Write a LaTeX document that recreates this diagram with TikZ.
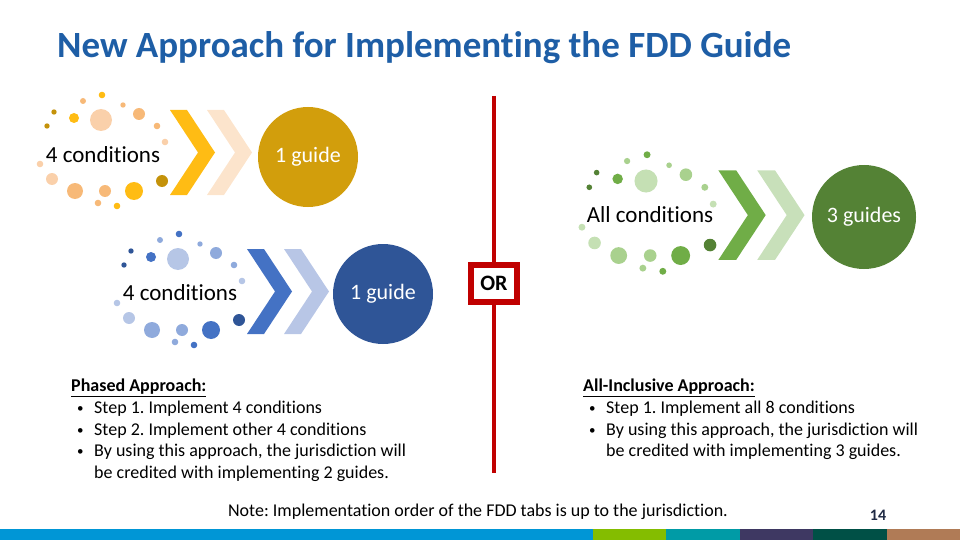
\documentclass[tikz,border=0pt]{standalone}
\usepackage{fontspec}
\setmainfont{Carlito}[Ligatures=NoCommon]
\frenchspacing
\newcommand{\smallbullet}{\hspace*{6pt}\makebox[17pt][l]{\raisebox{1pt}{\fontsize{13}{13}\selectfont\textbullet}}}

\definecolor{titleblue}{RGB}{30,94,166}
\definecolor{darkred}{RGB}{192,0,0}
\definecolor{pagenum}{RGB}{31,42,68}
% orange group
\definecolor{orA}{RGB}{196,146,10}
\definecolor{orB}{RGB}{255,188,20}
\definecolor{orC}{RGB}{247,185,120}
\definecolor{orD}{RGB}{250,208,170}
\definecolor{orE}{RGB}{252,228,204}
\definecolor{orF}{RGB}{210,158,12}
% blue group
\definecolor{blA}{RGB}{47,85,151}
\definecolor{blB}{RGB}{68,114,196}
\definecolor{blC}{RGB}{143,170,220}
\definecolor{blD}{RGB}{182,198,230}
\definecolor{blE}{RGB}{184,198,230}
\definecolor{blF}{RGB}{47,85,151}
% green group
\definecolor{grA}{RGB}{84,130,53}
\definecolor{grB}{RGB}{112,173,71}
\definecolor{grC}{RGB}{169,209,142}
\definecolor{grD}{RGB}{197,224,180}
\definecolor{grE}{RGB}{200,224,186}
\definecolor{grF}{RGB}{84,130,53}
% bottom bar
\definecolor{barA}{RGB}{0,150,214}
\definecolor{barB}{RGB}{132,189,0}
\definecolor{barC}{RGB}{0,155,166}
\definecolor{barD}{RGB}{62,56,98}
\definecolor{barE}{RGB}{0,80,70}
\definecolor{barF}{RGB}{176,123,86}

\begin{document}
\begin{tikzpicture}
[
  x=1pt, y=-1pt,
  condtext/.style={inner sep=0pt, font=\fontsize{23}{27}\selectfont},
  guide/.style={circle, minimum size=100pt, inner sep=0pt, text=white,
    font=\fontsize{22}{26}\selectfont},
  orbox/.style={draw=darkred, line width=6pt, fill=white, minimum width=46pt,
    minimum height=37pt, inner sep=0pt, font=\fontsize{22}{26}\selectfont\bfseries},
  redline/.style={draw=darkred, line width=4pt},
  notes/.style={anchor=north west, align=left, inner sep=0pt,
    font=\fontsize{18}{21.6}\selectfont}
]

\useasboundingbox (0,0) rectangle (960,540);

\node[anchor=west, inner sep=0pt, text=titleblue,
  font=\fontsize{37}{42}\selectfont\bfseries] (title) at (57,48)
  {New Approach for Implementing the FDD Guide};

% dots and chevrons of the three groups
\foreach \gx/\gy/\gs/\grp in {101/120/1/or, 178/259/1/bl, 646/181/1.05/gr}
{
  \begin{scope}[shift={(\gx,\gy)}, scale=\gs]
  \foreach \dx/\dy/\rad/\shade in {1/-25/3.3/B, -18/-19/3/C, 22/-15/2.7/C,
      -47/-8/2.7/A, -27/-2/5/B, 0/0/11/D, 38/-6/6/C, -54/6/2.7/A,
      56/6/3.3/C, 64/22/3.3/D, -61/44/3.3/D, -49/59/6/D, -26/71/8/C,
      4/71/6/C, 33/71/9/B, 61/61/6/A, -3/83/3.3/C, 16/86/3.3/B}
    \fill[\grp\shade] (\dx,\dy) circle (\rad);
  \fill[\grp B] (69,-10) -- (86,-10) -- (114,32.5) -- (86,75) -- (69,75)
    -- (97,32.5) -- cycle;
  \fill[\grp E] (106,-10) -- (123,-10) -- (151,32.5) -- (123,75) -- (106,75)
    -- (134,32.5) -- cycle;
  \end{scope}
}

\node[condtext] (condA) at (103,155) {4 conditions};
\node[guide, fill=orF] (guideA) at (308,157) {1 guide};

\node[condtext] (condB) at (180,293) {4 conditions};
\node[guide, fill=blF] (guideB) at (383,294) {1 guide};

\node[condtext] (condC) at (650,215) {All conditions};
\node[guide, fill=grF, minimum size=104pt] (guideC) at (864,217) {3 guides};

% divider
\coordinate (ltop) at (494,96);
\coordinate (lbot) at (494,473);
\node[orbox] (orsign) at (494,283.5) {OR};
\draw[redline] (ltop) -- (orsign);
\draw[redline] (orsign) -- (lbot);

\node[notes] (phased) at (71,379)
  {\underline{\textbf{Phased Approach:}}\\
   \smallbullet Step 1. Implement 4 conditions\\
   \smallbullet Step 2. Implement other 4 conditions\\
   \smallbullet By using this approach, the jurisdiction will\\
   \hspace*{23pt}be credited with implementing 2 guides.};

\node[notes] (inclusive) at (583,379)
  {\underline{\textbf{All-Inclusive Approach:}}\\
   \smallbullet Step 1. Implement all 8 conditions\\
   \smallbullet By using this approach, the jurisdiction will\\
   \hspace*{23pt}be credited with implementing 3 guides.};

\node[inner sep=0pt, font=\fontsize{18}{21}\selectfont] (note) at (478,512)
  {Note: Implementation order of the FDD tabs is up to the jurisdiction.};
\node[inner sep=0pt, text=pagenum, font=\fontsize{16}{19}\selectfont\bfseries]
  (page) at (878,515) {14};

% bottom bar
\fill[barA] (0,529) rectangle (593,540);
\fill[barB] (593,529) rectangle (666,540);
\fill[barC] (666,529) rectangle (740,540);
\fill[barD] (740,529) rectangle (813,540);
\fill[barE] (813,529) rectangle (887,540);
\fill[barF] (887,529) rectangle (960,540);
\end{tikzpicture}
\end{document}
